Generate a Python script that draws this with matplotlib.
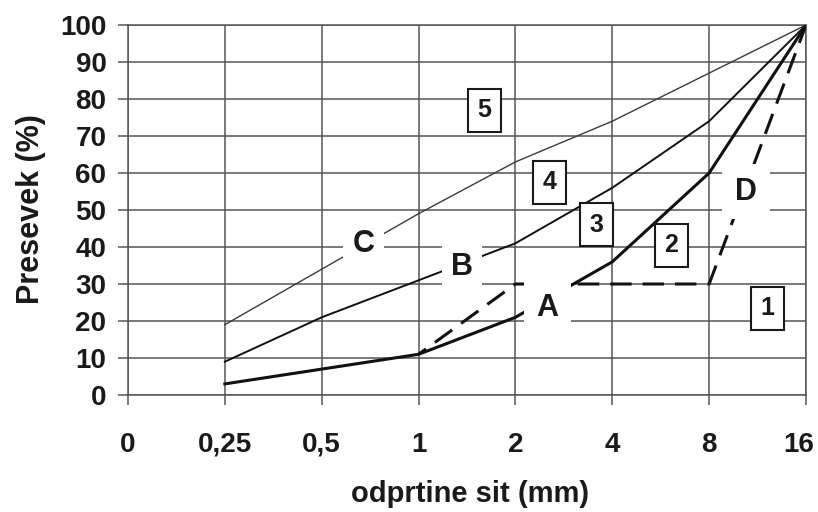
import matplotlib
matplotlib.use("Agg")
import matplotlib.pyplot as plt
from matplotlib.transforms import ScaledTranslation

# ---- data ----
sieve_labels = ['0', '0,25', '0,5', '1', '2', '4', '8', '16']
curve_x_idx = [1, 2, 3, 4, 5, 6, 7]          # 0,25 ... 16
curve_A = [3, 7, 11, 21, 36, 60, 100]
curve_B = [9, 21, 31, 41, 56, 74, 100]
curve_C = [19, 34, 49, 63, 74, 87, 100]
curve_D_x_idx = [3, 4, 5, 6, 7]               # 1 ... 16
curve_D = [11, 30, 30, 30, 100]
y_ticks = [0, 10, 20, 30, 40, 50, 60, 70, 80, 90, 100]

plt.rcParams['font.family'] = ['Liberation Sans', 'DejaVu Sans']
plt.rcParams['font.weight'] = 'bold'

W, H = 818, 512
fig = plt.figure(figsize=(W / 100, H / 100), dpi=100)
ax = fig.add_axes([128 / W, 1 - 395 / H, 678 / W, 370 / H])

grid_col = '#555555'
txt_col = '#1a1a1a'
ax.set_xlim(0, len(sieve_labels) - 1)
ax.set_ylim(0, 100)
ax.set_xticks(range(len(sieve_labels)))
ax.set_xticklabels(sieve_labels)
ax.set_yticks(y_ticks)
ax.set_axisbelow(True)
ax.grid(True, color=grid_col, lw=1.1)
for s in ax.spines.values():
    s.set_color(grid_col)
    s.set_linewidth(1.1)
ax.tick_params(axis='both', length=7.5, width=1.1, color=grid_col,
               labelsize=20, direction='out')
ax.tick_params(axis='x', pad=19)
ax.tick_params(axis='y', pad=8)
for lab in ax.get_xticklabels() + ax.get_yticklabels():
    lab.set_fontweight('bold')
    lab.set_color(txt_col)
# last x label sits slightly left of its gridline, as in the reference
last = ax.get_xticklabels()[-1]
last.set_transform(last.get_transform() + ScaledTranslation(-7 / 100, 0, fig.dpi_scale_trans))

# ---- curves ----
ax.plot(curve_x_idx, curve_C, color='#3a3a3a', lw=1.0, zorder=3)
ax.plot(curve_x_idx, curve_B, color='#111111', lw=1.4, zorder=3)
ax.plot(curve_x_idx, curve_A, color='#111111', lw=2.2, zorder=3)
ax.plot(curve_D_x_idx, curve_D, color='#111111', lw=2.2, zorder=3,
        linestyle=(4, (7, 3.6)))

# ---- curve letters (white background hides the lines) ----
def letter(x, y, s, pad):
    ax.text(x, y, s, fontsize=22, fontweight='bold', ha='center', va='center',
            color=txt_col, zorder=6,
            bbox=dict(boxstyle='square,pad=%.2f' % pad, fc='white', ec='none'))

letter(4.33, 23.5, 'A', 0.42)
letter(3.45, 34.5, 'B', 0.3)
letter(2.43, 40.8, 'C', 0.3)
letter(6.38, 55, 'D', 0.42)

# ---- numbered zones ----
box_kw = dict(fontsize=18, fontweight='bold', ha='center', va='center',
              color=txt_col, zorder=7,
              bbox=dict(boxstyle='square,pad=0.38', fc='white', ec=txt_col, lw=1.5))
ax.text(6.6, 23.5, '1', **box_kw)
ax.text(5.61, 40.5, '2', **box_kw)
ax.text(4.84, 46, '3', **box_kw)
ax.text(4.35, 57.5, '4', **box_kw)
ax.text(3.68, 77, '5', **box_kw)

ax.set_xlabel('odprtine sit (mm)', fontsize=21, fontweight='bold', color=txt_col)
ax.xaxis.set_label_coords(0.504, -0.23)
ax.set_ylabel('Presevek (%)', fontsize=22, fontweight='bold', color=txt_col)
ax.yaxis.set_label_coords(-0.121, 0.503)

fig.savefig('out.png', dpi=100, facecolor='white')
